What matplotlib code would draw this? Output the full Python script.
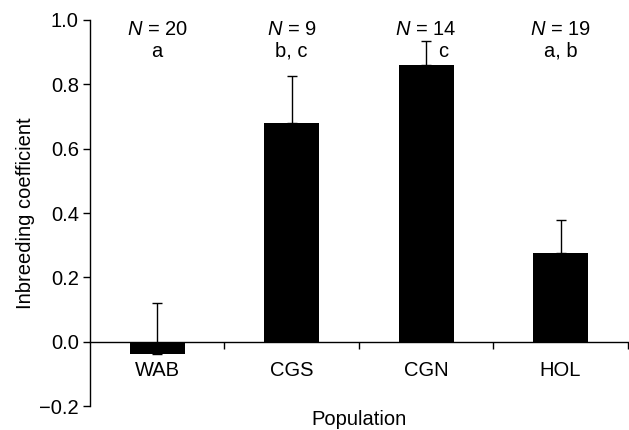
import numpy as np
import matplotlib
matplotlib.use('Agg')
import matplotlib.pyplot as plt

plt.rcParams['font.family'] = ['Liberation Sans', 'DejaVu Sans']
plt.rcParams['mathtext.fontset'] = 'custom'
plt.rcParams['mathtext.rm'] = 'Liberation Sans'
plt.rcParams['mathtext.it'] = 'Liberation Sans:italic'

# Data lest av figuren
populations = ['WAB', 'CGS', 'CGN', 'HOL']
inbreeding = [-0.037, 0.681, 0.859, 0.275]
err_upper = [0.157, 0.145, 0.077, 0.102]
sample_n = [20, 9, 14, 19]
groups = ['a', 'b, c', 'c', 'a, b']

FS = 14.5

fig = plt.figure(figsize=(6.29, 4.30), dpi=100)
ax = fig.add_axes([0.143, 0.0558, 0.855, 0.8977])

x = np.arange(len(populations))
ax.bar(x, inbreeding, width=0.41, color='black', zorder=2)
ax.errorbar(x, inbreeding, yerr=[np.zeros(len(x)), err_upper], fmt='none',
            ecolor='black', elinewidth=1, capsize=3.5, capthick=1, zorder=3)

# Tekst over søylene
for i, (n, g) in enumerate(zip(sample_n, groups)):
    ax.text(i, 0.953, f'$N$ = {n}', ha='center', va='baseline', fontsize=FS)
    gx = i + 0.125 if g == 'c' else i
    ax.text(gx, 0.885, g, ha='center', va='baseline', fontsize=FS)

ax.set_xlim(-0.5, 3.5)
ax.set_ylim(-0.2, 1.0)
ax.set_yticks(np.arange(-0.2, 1.01, 0.2))
ax.set_yticklabels(['\u22120.2', '0.0', '0.2', '0.4', '0.6', '0.8', '1.0'])

ax.spines['top'].set_visible(False)
ax.spines['right'].set_visible(False)
ax.spines['bottom'].set_position(('data', 0))
ax.spines['left'].set_linewidth(1)
ax.spines['bottom'].set_linewidth(1)

ax.set_xticks([0.5, 1.5, 2.5, 3.5])
ax.set_xticklabels([])
ax.set_xticks(x, minor=True)
ax.set_xticklabels(populations, minor=True)
ax.tick_params(axis='x', which='major', direction='out', length=5, width=1)
ax.tick_params(axis='x', which='minor', length=0, pad=14, labelsize=FS)
ax.tick_params(axis='y', direction='out', length=5, width=1, labelsize=FS, pad=3)

ax.set_ylabel('Inbreeding coefficient', fontsize=FS, labelpad=3)
fig.text(0.571, 0.024, 'Population', ha='center', va='center', fontsize=FS)

fig.savefig('out.png', dpi=100)
